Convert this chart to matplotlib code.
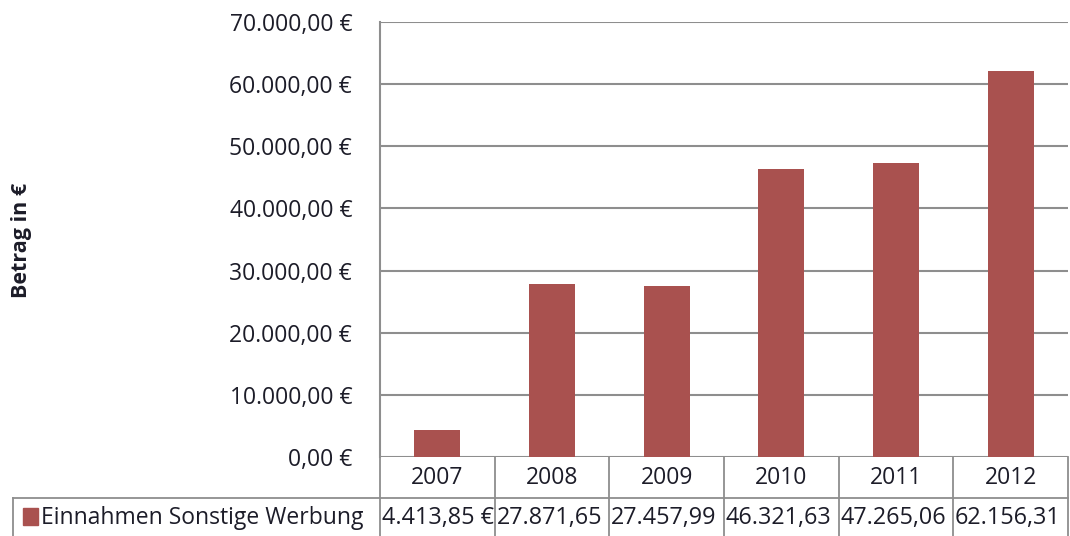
import matplotlib
matplotlib.use("Agg")
import matplotlib.pyplot as plt
from matplotlib.lines import Line2D
from matplotlib.patches import Rectangle
from matplotlib.ticker import FixedLocator, FuncFormatter
import matplotlib.transforms as mtransforms

years = ["2007", "2008", "2009", "2010", "2011", "2012"]
values = [4413.85, 27871.65, 27457.99, 46321.63, 47265.06, 62156.31]
cell_texts = ["4.413,85 €", "27.871,65", "27.457,99", "46.321,63", "47.265,06", "62.156,31"]
series_name = "Einnahmen Sonstige Werbung"
y_ticks = [0, 10000, 20000, 30000, 40000, 50000, 60000, 70000]
y_label = "Betrag in €"

W, H = 1070, 536
BAR = "#A9514F"
GRID = "#8E8E8E"
TXT = "#1c1c28"
FONT = "Open Sans"

fig = plt.figure(figsize=(W / 100, H / 100), dpi=100)

def fx(px):
    return px / W

def fy(py):
    return 1 - py / H

left, right, top, bottom = 380, 1068, 22, 457
ax = fig.add_axes([fx(left), fy(bottom), fx(right - left), (bottom - top) / H])

x = list(range(len(years)))
ax.bar(x, values, width=0.4, color=BAR, zorder=3)
ax.set_xlim(-0.5, len(years) - 0.5)
ax.set_ylim(0, 70000)

def fmt(v, pos):
    s = f"{v:,.2f}".replace(",", "X").replace(".", ",").replace("X", ".")
    return s + " €"

ax.yaxis.set_major_locator(FixedLocator(y_ticks))
ax.yaxis.set_major_formatter(FuncFormatter(fmt))
ax.grid(axis="y", color=GRID, linewidth=1.5, zorder=0)
for s in ["top", "right", "bottom"]:
    ax.spines[s].set_visible(False)
ax.spines["left"].set_color(GRID)
ax.spines["left"].set_linewidth(1.5)
ax.tick_params(axis="y", length=0, pad=20, labelsize=16.5, labelcolor=TXT)
for lab in ax.get_yticklabels():
    lab.set_fontfamily(FONT)
ax.set_xticks([])

fig.text(fx(22), fy(240), y_label, rotation=90, ha="center", va="center",
         fontsize=15.5, fontweight="bold", family=FONT, color=TXT)

# data table
trans = mtransforms.blended_transform_factory(ax.transData, fig.transFigure)
lc = GRID
for i in range(len(years) + 1):
    fig.add_artist(Line2D([i - 0.5, i - 0.5], [fy(457), fy(536)], transform=trans,
                          color=lc, linewidth=1.3))
fig.add_artist(Line2D([fx(13), fx(right)], [fy(498), fy(498)], transform=fig.transFigure,
                      color=lc, linewidth=1.3))
fig.add_artist(Line2D([fx(13), fx(13)], [fy(498), fy(536)], transform=fig.transFigure,
                      color=lc, linewidth=1.3))

for i, yr in enumerate(years):
    fig.text(i, fy(478), yr, transform=trans, ha="center", va="center",
             fontsize=16.5, family=FONT, color=TXT)
    fig.text(i - 0.485, fy(518), cell_texts[i], transform=trans, ha="left", va="center",
             fontsize=16.8, family=FONT, color=TXT)

fig.add_artist(Rectangle((fx(23), fy(525)), fx(15), 17 / H, transform=fig.transFigure,
                         color=BAR))
fig.text(fx(41), fy(518), series_name, ha="left", va="center", fontsize=16.5,
         family=FONT, color=TXT)

fig.savefig("out.png", dpi=100)
